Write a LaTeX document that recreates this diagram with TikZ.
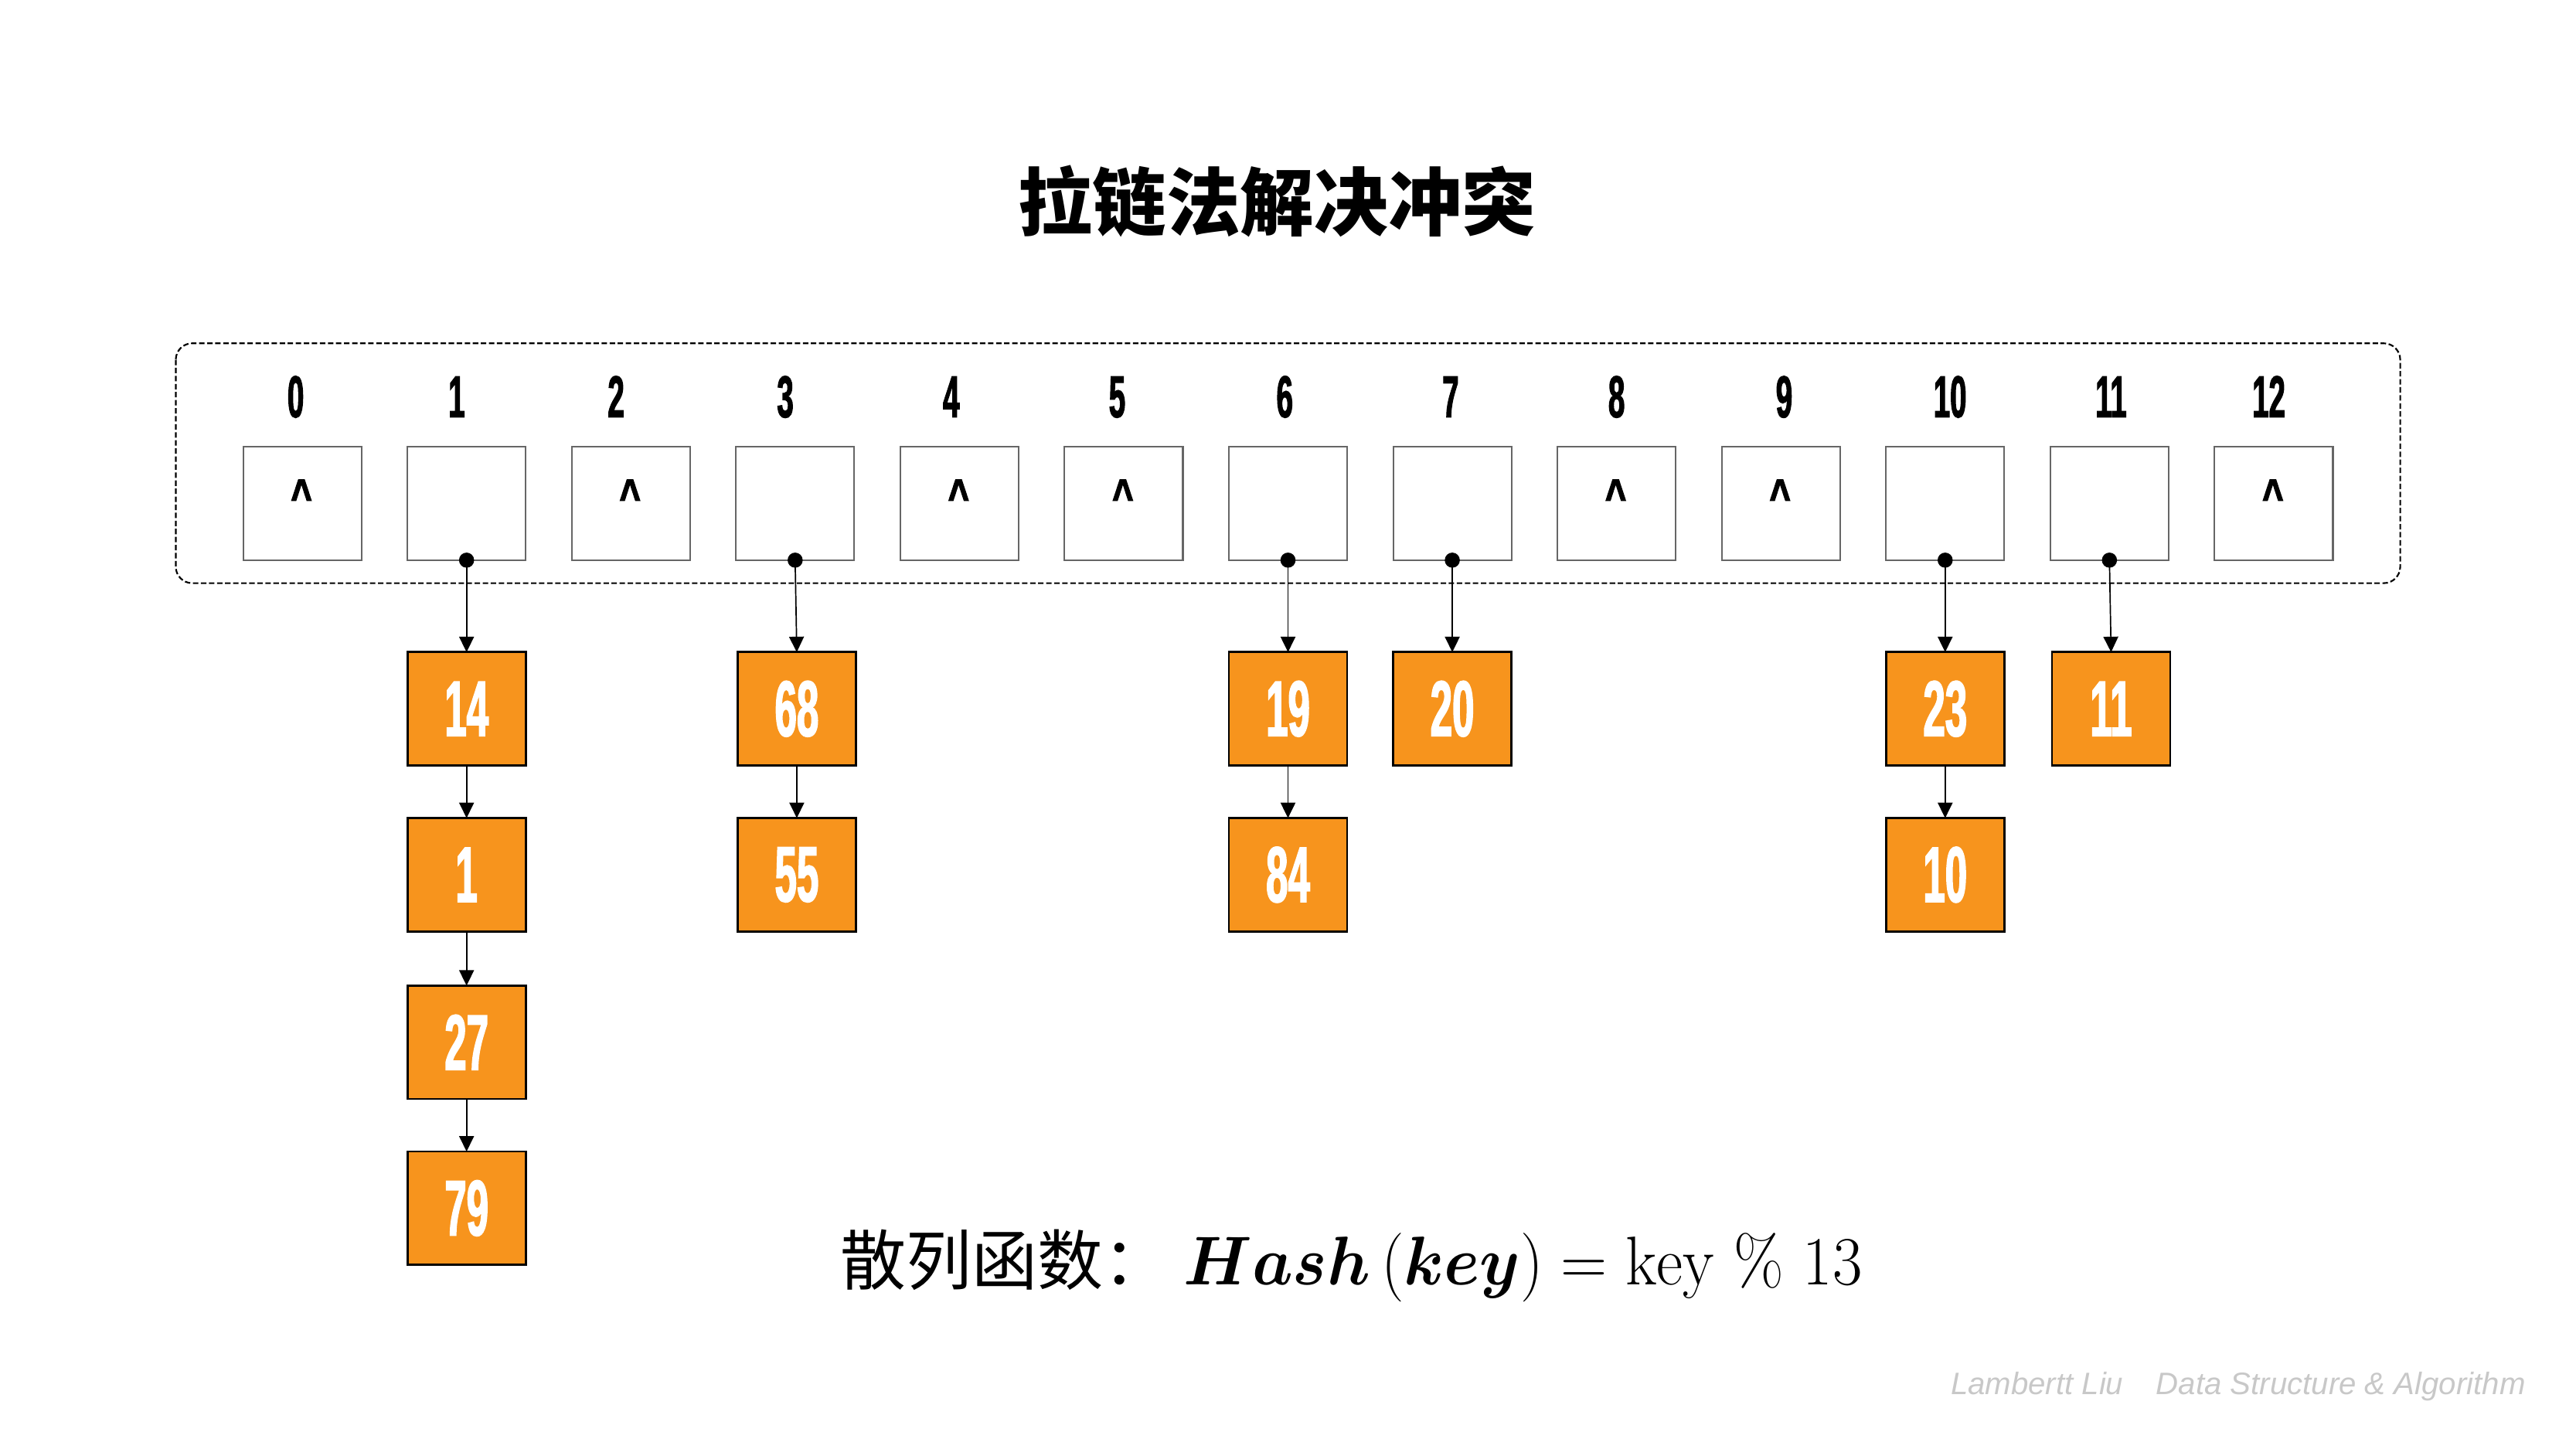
\RequirePackage{fix-cm}
\documentclass[tikz,border=0pt]{standalone}
\usepackage{amsmath}
\usepackage{fontspec}
\usetikzlibrary{arrows.meta}
\newfontfamily\cjk{Noto Sans CJK SC}
\newfontfamily\numfont{Liberation Sans}[FakeStretch=0.5,FakeBold=1.5]
\newfontfamily\caretfont{Liberation Sans}[FakeStretch=0.75,FakeBold=2.5]
\newfontfamily\wmfont{Liberation Sans}
\definecolor{nodeorange}{RGB}{247,148,29}
\definecolor{boxgray}{RGB}{102,102,102}
\definecolor{wmgray}{RGB}{200,200,200}
\begin{document}
\begin{tikzpicture}[x=0.5pt,y=-0.5pt,
  slot/.style={draw=boxgray, line width=0.5pt, minimum width=36pt, minimum height=34.5pt, inner sep=0pt, outer sep=0pt},
  item/.style={draw=black, fill=nodeorange, line width=0.65pt, minimum width=36pt, minimum height=34.5pt, inner sep=0pt, outer sep=0pt, text=white, font=\numfont\bfseries\fontsize{24}{24}\selectfont},
  idx/.style={anchor=base, inner sep=0pt, font=\numfont\bfseries\fontsize{18}{18}\selectfont},
  nil/.style={anchor=base, inner sep=0pt, font=\caretfont\bfseries\fontsize{14.5}{14.5}\selectfont},
  link/.style={line width=0.4pt, -{Triangle[length=4.7pt,width=4.5pt]}},
  frame/.style={dash pattern=on 1.65pt off 0.8pt, line width=0.5pt, rounded corners=5pt},
  pin/.style={fill=black}
]
\useasboundingbox (0,0) rectangle (1568,882);

% title
\node[font=\cjk\bfseries\fontsize{22.5}{22.5}\selectfont] (title) at (777.5,122.5) {拉链法解决冲突};

% dashed frame
\draw[frame] (107,209) rectangle (1461,355);

% slots
\foreach \i in {0,...,12} {
  \node[slot] (s\i) at ({184+100*\i},306.5) {};
}
\foreach \i/\x in {0/180,1/278,2/375,3/478,4/579,5/680,6/782,7/883,8/984,9/1086,10/1187,11/1285,12/1381} {
  \node[idx] (l\i) at (\x,254) {\i};
}
\foreach \i in {0,2,4,5,8,9,12} {
  \node[nil] (n\i) at ({183.5+100*\i},312) {\textasciicircum};
}

% chain nodes
\node[item] (c1a) at (284,431.5) {14};
\node[item] (c1b) at (284,532.5) {1};
\node[item] (c1c) at (284,634.5) {27};
\node[item] (c1d) at (284,735.5) {79};
\node[item] (c3a) at (485,431.5) {68};
\node[item] (c3b) at (485,532.5) {55};
\node[item] (c6a) at (784,431.5) {19};
\node[item] (c6b) at (784,532.5) {84};
\node[item] (c7a) at (884,431.5) {20};
\node[item] (c10a) at (1184,431.5) {23};
\node[item] (c10b) at (1184,532.5) {10};
\node[item] (c11a) at (1285,431.5) {11};

% links from slots
\foreach \s/\c in {s1/c1a,s3/c3a,s6/c6a,s7/c7a,s10/c10a,s11/c11a} {
  \draw[link] (\s.south) -- (\c.north);
  \fill[pin] (\s.south) circle (2.3pt);
}
% links inside chains
\foreach \a/\b in {c1a/c1b,c1b/c1c,c1c/c1d,c3a/c3b,c6a/c6b,c10a/c10b} {
  \draw[link] (\a.south) -- (\b.north);
}

% formula
\node[anchor=base west, inner sep=0pt, font=\cjk\fontsize{20}{20}\selectfont] (fn) at (511,782) {散列函数：};
\node[anchor=base west, inner sep=0pt, font=\fontsize{21}{21}\selectfont] (fx) at (720,782) {\scalebox{0.935}[1]{$\boldsymbol{Hash}\,(\boldsymbol{key}) = \mathrm{key}\ \%\ 13$}};

% watermark
\node[anchor=base west, inner sep=0pt, text=wmgray, font=\wmfont\itshape\fontsize{9.45}{9.45}\selectfont] (wm) at (1187,849) {Lambertt Liu\hspace{10pt}Data Structure \& Algorithm};
\end{tikzpicture}
\end{document}
